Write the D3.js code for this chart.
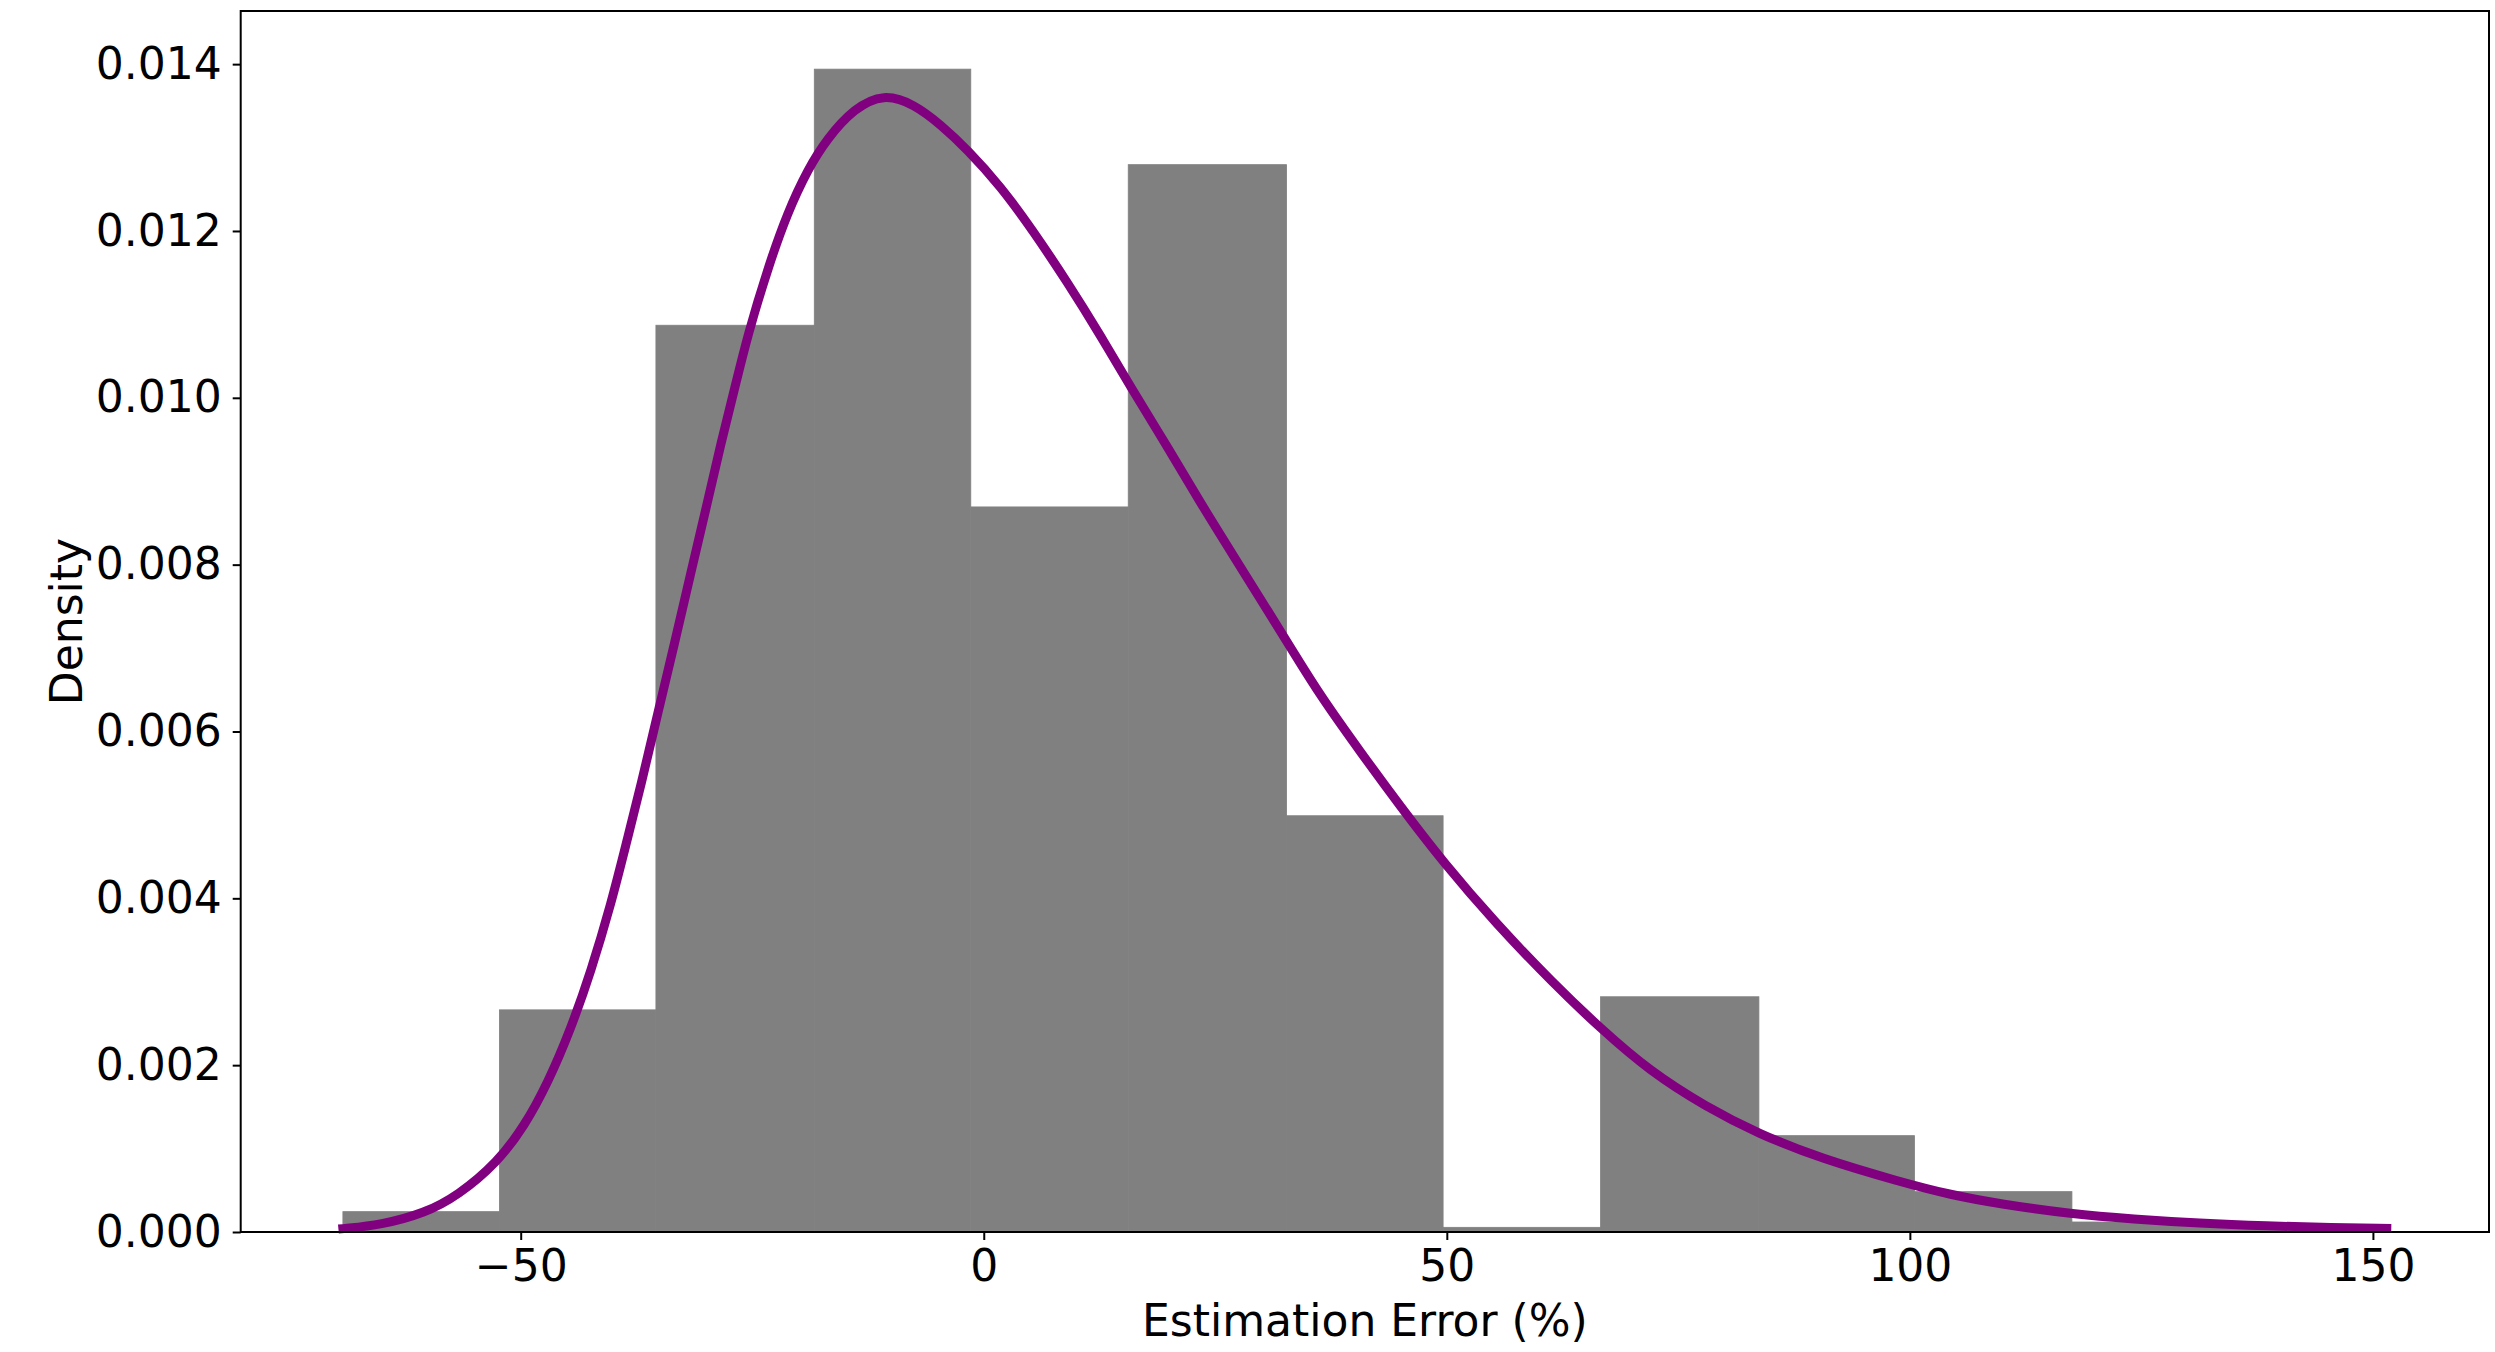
<!DOCTYPE html>
<html>
<head>
<meta charset="utf-8">
<script src="https://cdn.jsdelivr.net/npm/d3@7"></script>
<style>
  html, body { margin: 0; padding: 0; background: #ffffff; }
  svg { display: block; }
  text { font-family: "DejaVu Sans", sans-serif; fill: #000; }
</style>
</head>
<body>
<svg id="chart" width="2495" height="1352"></svg>
<script>
// ---- data ----
const binEdges = [-69.2, -52.3, -35.4, -18.3, -1.4, 15.6, 32.7, 49.6, 66.6, 83.7, 100.5, 117.5, 134.5, 151.5];
const binDensity = [0.000244, 0.002663, 0.01087, 0.01394, 0.008692, 0.012795, 0.00499, 0.000056, 0.00282, 0.001155, 0.000484, 0.00012, 0.00006];

const kdeX = [-69.2, -65.1, -60.4, -56.8, -52.5, -49.6, -47.1, -44.6, -42.4, -40.25, -38.6, -37.0, -35.2, -33.4, -31.6, -29.8, -28.4, -26.9, -25.5, -23.3, -21.2, -19.0, -16.9, -14.0, -10.8, -7.5, -4.6, -1.8, 1.8, 5.4, 9.0, 12.6, 15.9, 19.8, 23.4, 27.0, 30.6, 33.5, 36.4, 40.7, 45.0, 49.7, 55.3, 61.5, 66.6, 71.9, 78.0, 83.6, 90.4, 99.0, 104.4, 109.8, 117.5, 124.1, 131.3, 138.5, 145.7, 151.5];
const kdeY = [0.00004, 0.000084, 0.000224, 0.000435, 0.000835, 0.00127, 0.00178, 0.00243, 0.00313, 0.00393, 0.00466, 0.00536, 0.00622, 0.00705, 0.00792, 0.00876, 0.00945, 0.01011, 0.01075, 0.01156, 0.01222, 0.01274, 0.01311, 0.01347, 0.01365, 0.01352, 0.01327, 0.01298, 0.01254, 0.01199, 0.01139, 0.01075, 0.01012, 0.00942, 0.00874, 0.00810, 0.00746, 0.00694, 0.00642, 0.00575, 0.00510, 0.00442, 0.00370, 0.00298, 0.00244, 0.00193, 0.00150, 0.00118, 0.00088, 0.00060, 0.000445, 0.000335, 0.000215, 0.000155, 0.000104, 0.000072, 0.000052, 0.000044];

const xTicks = [-50, 0, 50, 100, 150];
const yTicks = [0, 0.002, 0.004, 0.006, 0.008, 0.010, 0.012, 0.014];
const xLabel = "Estimation Error (%)";
const yLabel = "Density";

// ---- layout ----
const W = 2495, H = 1352;
const margin = { left: 240.7, top: 11, right: 6, bottom: 120 };
const iw = W - margin.left - margin.right;
const ih = H - margin.top - margin.bottom;

const svg = d3.select("#chart");
const g = svg.append("g").attr("transform", `translate(${margin.left},${margin.top})`);

// matplotlib-style 5% padding on x, 5% top padding on y
const xMin = d3.min(binEdges), xMax = d3.max(binEdges);
const xPad = (xMax - xMin) * 0.05;
const x = d3.scaleLinear().domain([xMin - xPad, xMax + xPad]).range([0, iw]);
const yTop = d3.max(binDensity) * 1.05;
const y = d3.scaleLinear().domain([0, yTop]).range([ih, 0]);

// bars
const bins = binDensity.map((d, i) => ({ x0: binEdges[i], x1: binEdges[i + 1], v: d }));
g.append("g").selectAll("rect").data(bins).join("rect")
  .attr("x", d => x(d.x0))
  .attr("width", d => x(d.x1) - x(d.x0))
  .attr("y", d => y(d.v))
  .attr("height", d => y(0) - y(d.v))
  .attr("fill", "#808080")
  .attr("stroke", "#808080")
  .attr("stroke-width", 0.8);

// KDE line
const pts = kdeX.map((v, i) => [v, kdeY[i]]);
const line = d3.line().x(d => x(d[0])).y(d => y(d[1])).curve(d3.curveBasis);
g.append("path").datum(pts)
  .attr("d", line)
  .attr("fill", "none")
  .attr("stroke", "#800080")
  .attr("stroke-width", 9)
  .attr("stroke-linecap", "square")
  .attr("stroke-linejoin", "round");

// axes
const fontSize = 44;
const xAxis = d3.axisBottom(x).tickValues(xTicks)
  .tickFormat(d => d < 0 ? "\u2212" + Math.abs(d) : String(d))
  .tickSizeInner(8).tickSizeOuter(0).tickPadding(9.5);
const gx = g.append("g").attr("transform", `translate(0,${ih})`).call(xAxis);
gx.select(".domain").remove();
gx.selectAll(".tick line").attr("stroke", "#000").attr("stroke-width", 2);
gx.selectAll(".tick text").attr("font-size", fontSize).attr("font-family", "DejaVu Sans");

const yAxis = d3.axisLeft(y).tickValues(yTicks)
  .tickFormat(d3.format(".3f"))
  .tickSizeInner(8).tickSizeOuter(0).tickPadding(11);
const gy = g.append("g").call(yAxis);
gy.select(".domain").remove();
gy.selectAll(".tick line").attr("stroke", "#000").attr("stroke-width", 2);
gy.selectAll(".tick text").attr("font-size", fontSize).attr("font-family", "DejaVu Sans");

// spines (frame)
g.append("rect")
  .attr("x", 0).attr("y", 0).attr("width", iw).attr("height", ih)
  .attr("fill", "none").attr("stroke", "#000").attr("stroke-width", 2);

// axis labels
svg.append("text")
  .attr("x", margin.left + iw / 2).attr("y", 1336)
  .attr("text-anchor", "middle").attr("font-size", fontSize)
  .text(xLabel);

svg.append("text")
  .attr("transform", `translate(82,${margin.top + ih / 2}) rotate(-90)`)
  .attr("text-anchor", "middle").attr("font-size", fontSize)
  .text(yLabel);
</script>
</body>
</html>
